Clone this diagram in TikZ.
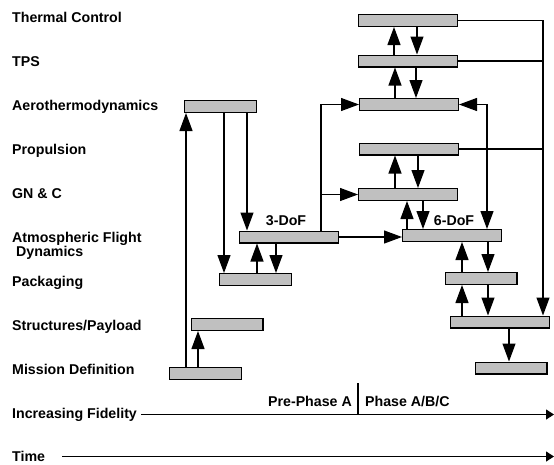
\documentclass[tikz,border=0pt]{standalone}
\usepackage{fontspec}
\setmainfont{Liberation Sans}
\usetikzlibrary{arrows.meta, positioning}
\definecolor{barfill}{RGB}{192, 192, 192}

\begin{document}
\begin{tikzpicture}[x=1pt, y=-1pt, font=\bfseries\fontsize{14.2}{14}\selectfont,
    bar/.style={rectangle, draw, line width=1.4pt, fill=barfill, inner sep=0pt,
                minimum width=98.6pt, minimum height=11.6pt},
    shortbar/.style={bar, minimum width=71.6pt},
    lbl/.style={anchor=base west, inner sep=0pt, align=left},
    link/.style={line width=1.2pt},
    arrow/.style={link, -{Triangle[length=18pt, width=13pt]}},
    both/.style={link, {Triangle[length=18pt, width=13pt]}-{Triangle[length=18pt, width=13pt]}},
    axis/.style={line width=1.2pt, -{Triangle[length=8pt, width=10pt]}}]

    \useasboundingbox (0,0) rectangle (554,464);

    % Disciplines
    \node[lbl] (thermal) at (12,22.7) {Thermal Control};
    \node[lbl] (tpslbl) at (12,66.7) {TPS};
    \node[lbl] (aerolbl) at (12,110.7) {Aerothermodynamics};
    \node[lbl] (proplbl) at (12,154.7) {Propulsion};
    \node[lbl] (gnclbl) at (12,198.7) {GN \& C};
    \node[lbl] (afdlbl) at (12,256.7) {Atmospheric Flight\\\hspace*{4pt}Dynamics};
    \node[lbl] (packlbl) at (12,286.7) {Packaging};
    \node[lbl] (structlbl) at (12,330.7) {Structures/Payload};
    \node[lbl] (misslbl) at (12,374.7) {Mission Definition};
    \node[lbl] (fid) at (12,418.7) {Increasing Fidelity};
    \node[lbl] (time) at (12,461) {Time};

    % Bars
    \node[bar] (therm) at (408,20.5) {};
    \node[bar] (tps) at (408,61) {};
    \node[bar] (aeroR) at (409,104.5) {};
    \node[bar] (prop) at (409,149) {};
    \node[bar] (gnc) at (408,194.5) {};
    \node[bar] (dof3) at (289,237) {};
    \node[bar] (dof6) at (452,235.5) {};
    \node[shortbar] (aeroL) at (220.5,106.5) {};
    \node[shortbar] (packL) at (255.5,279.5) {};
    \node[shortbar] (packR) at (481,278.5) {};
    \node[shortbar] (structL) at (227,324.5) {};
    \node[bar] (structR) at (500,322) {};
    \node[shortbar] (missL) at (205.5,373.5) {};
    \node[shortbar] (missR) at (511,368) {};

    \node[anchor=base] (dof3lbl) at (286,225) {3-DoF};
    \node[anchor=base] (dof6lbl) at (454,225) {6-DoF};

    \coordinate (spine) at (321,0);
    \coordinate (loop) at (487,0);
    \coordinate (bus) at (543,0);

    % Left column
    \draw[arrow] ([xshift=-19.5pt]missL.north) -- ([xshift=-19.5pt]missL.north |- aeroL.south);
    \draw[arrow] ([xshift=-7.5pt]missL.north) -- ([xshift=-7.5pt]missL.north |- structL.south);
    \draw[arrow] ([xshift=3.5pt]aeroL.south) -- ([xshift=3.5pt]aeroL.south |- packL.north);
    \draw[arrow] ([xshift=26.5pt]aeroL.south) -- ([xshift=26.5pt]aeroL.south |- dof3.north);
    \draw[arrow] ([xshift=1.5pt]packL.north) -- ([xshift=1.5pt]packL.north |- dof3.south);
    \draw[arrow] ([xshift=20.5pt]packL.north |- dof3.south) -- ([xshift=20.5pt]packL.north);

    % 3-DoF to the right column
    \draw[arrow] (spine |- dof3.north) |- (aeroR.west);
    \draw[arrow] (spine |- gnc.west) -- (gnc.west);
    \draw[arrow] (dof3.east) -- (dof6.west |- dof3.east);

    % Right column
    \draw[arrow] ([xshift=-14pt]tps.north) -- ([xshift=-14pt]tps.north |- therm.south);
    \draw[arrow] ([xshift=9pt]therm.south) -- ([xshift=9pt]therm.south |- tps.north);
    \draw[arrow] ([xshift=-14pt]aeroR.north) -- ([xshift=-14pt]aeroR.north |- tps.south);
    \draw[arrow] ([xshift=8pt]tps.south) -- ([xshift=8pt]tps.south |- aeroR.north);
    \draw[arrow] ([xshift=-13pt]gnc.north) -- ([xshift=-13pt]gnc.north |- prop.south);
    \draw[arrow] ([xshift=9pt]prop.south) -- ([xshift=9pt]prop.south |- gnc.north);
    \draw[arrow] ([xshift=-45pt]dof6.north) -- ([xshift=-45pt]dof6.north |- gnc.south);
    \draw[arrow] ([xshift=-29pt]dof6.north |- gnc.south) -- ([xshift=-29pt]dof6.north);
    \draw[both] (aeroR.east) -| (loop |- dof6.north);
    \draw[arrow] ([xshift=-19pt]packR.north) -- ([xshift=-19pt]packR.north |- dof6.south);
    \draw[arrow] ([xshift=7pt]packR.north |- dof6.south) -- ([xshift=7pt]packR.north);
    \draw[arrow] ([xshift=-19pt]packR.south |- structR.north) -- ([xshift=-19pt]packR.south);
    \draw[arrow] ([xshift=7pt]packR.south) -- ([xshift=7pt]packR.south |- structR.north);
    \draw[arrow] ([xshift=-2pt]missR.north |- structR.south) -- ([xshift=-2pt]missR.north);
    \draw[arrow] (therm.east) -| (bus |- structR.north);
    \draw[link] (tps.east) -- (tps.east -| bus);
    \draw[link] (prop.east) -- (prop.east -| bus);

    % Axes
    \coordinate (fend) at (554,414.5);
    \coordinate (tstart) at (62,456.5);
    \coordinate (tend) at (554,456.5);
    \coordinate (split) at (358,383);
    \draw[axis] ([xshift=4pt]fid.east |- fend) -- (fend);
    \draw[axis] (tstart) -- (tend);
    \draw[link] (split) -- (split |- fend);
    \node[anchor=base east, inner sep=0pt] (prephase) at (352,406) {Pre-Phase A};
    \node[anchor=base west, inner sep=0pt] (phase) at (365,406) {Phase A/B/C};
\end{tikzpicture}
\end{document}
